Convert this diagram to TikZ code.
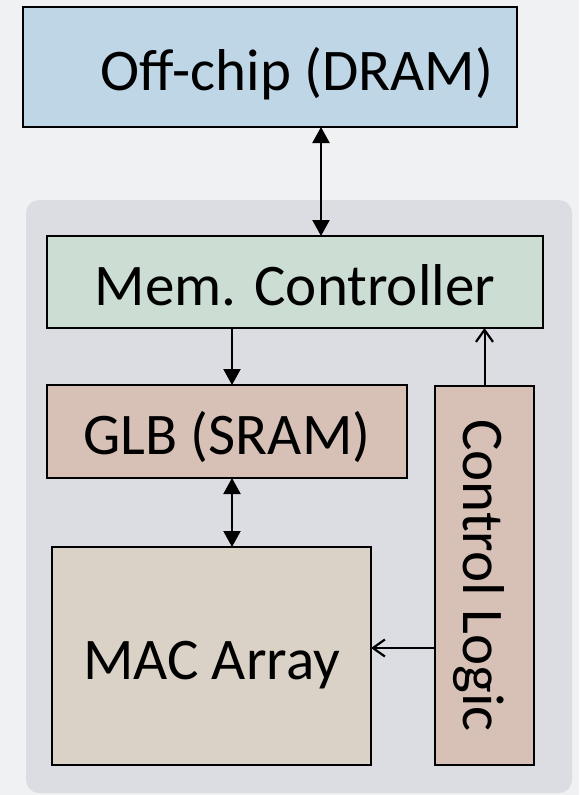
\documentclass[tikz,border=0pt]{standalone}
\usepackage{fontspec}
\setmainfont{Carlito}
\usetikzlibrary{arrows.meta}

\definecolor{pagebg}{HTML}{F0F1F3}
\definecolor{chipbg}{HTML}{DCDCE3}
\definecolor{dramfill}{HTML}{BFD6E6}
\definecolor{mcfill}{HTML}{CCDDD3}
\definecolor{glbfill}{HTML}{D7C1B6}
\definecolor{macfill}{HTML}{DBD2C7}

\tikzset{
  bigtext/.style={font=\fontsize{59}{61}\selectfont, text height=46pt, text depth=0pt},
  block/.style={draw=black, line width=2pt, inner sep=0pt, outer sep=0pt,
    bigtext, text=black},
  solidlink/.style={line width=2.2pt, -{Triangle[length=16pt,width=17pt]}},
  bothlink/.style={line width=2.2pt, {Triangle[length=16pt,width=17pt]}-{Triangle[length=16pt,width=17pt]}},
  ctrllink/.style={line width=2pt, -{Straight Barb[length=12pt,width=17pt,line width=2.2pt]}},
}

\begin{document}
\begin{tikzpicture}[x=1pt, y=-1pt]
  % canvas
  \fill[pagebg] (0,0) rectangle (579,795);
  \useasboundingbox (0,0) rectangle (579,795);

  % on-chip region
  \node[fill=chipbg, rounded corners=13pt, inner sep=0pt, outer sep=0pt,
        minimum width=546pt, minimum height=593pt] (chip) at (299,496.5) {};

  % memory hierarchy blocks
  \node[block, fill=dramfill, minimum width=494pt, minimum height=120pt] (dram) at (270,67) {};
  \node[bigtext, inner sep=0pt] (dramtext) at ([xshift=27pt]dram.center) {Off-chip (DRAM)};
  \node[block, fill=mcfill, minimum width=496pt, minimum height=92pt] (mc) at (295,282) {Mem. Controller};
  \node[block, fill=glbfill, minimum width=360pt, minimum height=93pt] (glb) at (227,431.5) {GLB (SRAM)};
  \node[block, fill=macfill, minimum width=319pt, minimum height=218pt] (mac) at (211.5,656) {MAC Array};
  \node[block, fill=glbfill, minimum width=99pt, minimum height=379pt] (cl) at (484.5,575.5) {};
  \node[bigtext, rotate=-90, inner sep=0pt] (cltext) at ([xshift=2pt]cl.center) {Control Logic};

  % connector positions
  \coordinate (busA) at (321,0);
  \coordinate (busB) at (232,0);
  \coordinate (ctrlY) at (0,648);

  % data paths
  \draw[bothlink] (dram.south -| busA) -- (mc.north -| busA);
  \draw[solidlink] (mc.south -| busB) -- (glb.north -| busB);
  \draw[bothlink] (glb.south -| busB) -- (mac.north -| busB);

  % control paths
  \draw[ctrllink] (cl.north) -- (cl.north |- mc.south);
  \draw[ctrllink] (cl.west |- ctrlY) -- (mac.east |- ctrlY);
\end{tikzpicture}
\end{document}
